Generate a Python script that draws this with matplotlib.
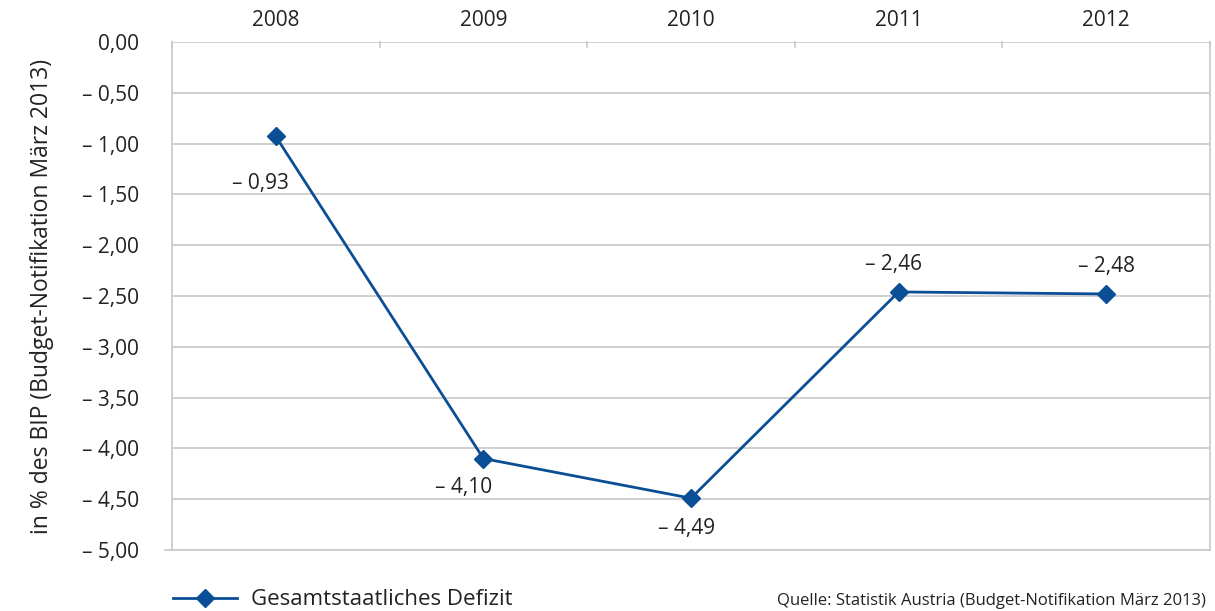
import matplotlib.pyplot as plt
import numpy as np

# Daten
jahre = ['2008', '2009', '2010', '2011', '2012']
defizit = [-0.93, -4.10, -4.49, -2.46, -2.48]
# Versatz der Beschriftungen in Punkten (dx, dy)
label_offset = [(-11, -34), (-14, -21), (-3, -22), (-4, 20), (0, 20)]
y_ticks = [0.0, -0.5, -1.0, -1.5, -2.0, -2.5, -3.0, -3.5, -4.0, -4.5, -5.0]

blau = '#0a4f96'
grau = '#c8c8c8'
text_farbe = '#222222'


def fmt(v):
    """deutsche Schreibweise mit Gedankenstrich"""
    s = '{:.2f}'.format(abs(v)).replace('.', ',')
    if v < 0:
        return '\u2013 ' + s
    return s


plt.rcParams['font.family'] = ['Open Sans', 'DejaVu Sans']

fig = plt.figure(figsize=(12.15, 6.11), dpi=100)
ax = fig.add_axes([172 / 1215, 1 - 550 / 611, (1210 - 172) / 1215, (550 - 42) / 611])

x = np.arange(len(jahre))
ax.plot(x, defizit, color=blau, lw=2, marker='D', ms=9, mfc=blau, mec=blau, zorder=3,
        label='Gesamtstaatliches Defizit')

for xi, v, off in zip(x, defizit, label_offset):
    ax.annotate(fmt(v), (xi, v), xytext=off, textcoords='offset points',
                ha='center', va='center', fontsize=15, color=text_farbe)

ax.set_xlim(-0.5, len(jahre) - 0.5)
ax.set_ylim(-5.0, 0.0)
ax.set_yticks(y_ticks)
ax.set_yticklabels([fmt(t) for t in y_ticks], fontsize=15, color=text_farbe)
ax.yaxis.grid(True, color=grau, lw=1.2)
ax.set_axisbelow(True)
ax.tick_params(axis='y', length=0, pad=24)

# Jahre oben
ax.xaxis.tick_top()
ax.set_xticks(x)
ax.set_xticklabels(jahre, fontsize=15, color=text_farbe)
ax.tick_params(axis='x', length=0, pad=8)
for b in np.arange(-0.5, len(jahre), 1.0):
    ax.plot([b, b], [0, -0.05], color=grau, lw=1.2, clip_on=False, zorder=2)

for s in ['top', 'bottom']:
    ax.spines[s].set_visible(False)
ax.spines['left'].set_color(grau)
ax.spines['right'].set_color(grau)
ax.spines['left'].set_linewidth(1.2)
ax.spines['right'].set_linewidth(1.2)
# untere Linie etwas nach links verlaengert
ax.plot([-0.535, len(jahre) - 0.5], [-5.0, -5.0], color=grau, lw=1.2, clip_on=False, zorder=2)

fig.text(42 / 1215, 1 - 296 / 611, 'in % des BIP (Budget-Notifikation März 2013)',
         rotation=90, ha='center', va='center', fontsize=16.5, color=text_farbe)

leg = ax.legend(loc='upper left', bbox_to_anchor=(-0.008, -0.06), frameon=False,
                fontsize=16, handlelength=2.9, handletextpad=0.65, borderaxespad=0)
for t in leg.get_texts():
    t.set_color(text_farbe)

fig.text(1206 / 1215, 1 - 601 / 611, 'Quelle: Statistik Austria (Budget-Notifikation März 2013)',
         ha='right', va='center', fontsize=12, color=text_farbe)

fig.savefig('out.png', dpi=100)
